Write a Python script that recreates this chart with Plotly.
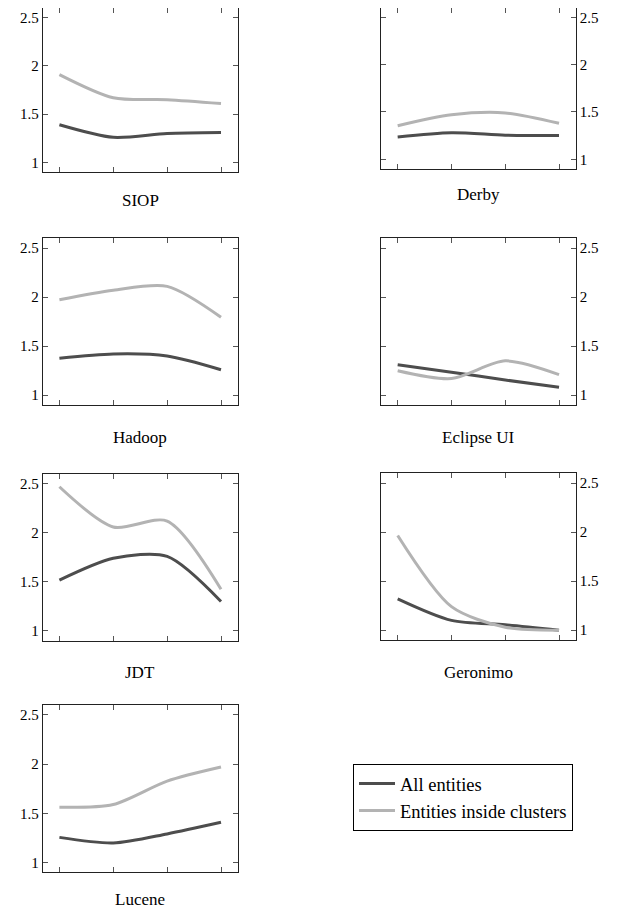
import plotly.graph_objects as go

x_steps = [1, 2, 3, 4]
panels = ["SIOP", "Derby", "Hadoop", "Eclipse UI", "JDT", "Geronimo", "Lucene"]
all_entities = {
    "SIOP": [1.39, 1.26, 1.30, 1.31],
    "Derby": [1.235, 1.28, 1.255, 1.25],
    "Hadoop": [1.377, 1.42, 1.40, 1.26],
    "Eclipse UI": [1.31, 1.235, 1.155, 1.08],
    "JDT": [1.517, 1.74, 1.76, 1.30],
    "Geronimo": [1.32, 1.10, 1.055, 1.0],
    "Lucene": [1.255, 1.198, 1.29, 1.408],
}
inside_clusters = {
    "SIOP": [1.91, 1.67, 1.65, 1.61],
    "Derby": [1.354, 1.47, 1.49, 1.38],
    "Hadoop": [1.973, 2.07, 2.11, 1.795],
    "Eclipse UI": [1.25, 1.17, 1.35, 1.21],
    "JDT": [2.47, 2.06, 2.12, 1.425],
    "Geronimo": [1.966, 1.24, 1.03, 1.0],
    "Lucene": [1.561, 1.589, 1.827, 1.97],
}
y_tick_vals = [1, 1.5, 2, 2.5]
y_tick_text = ["1", "1.5", "2", "2.5"]
series_names = ["All entities", "Entities inside clusters"]

W, H = 620, 910
OFF = 8  # page body margin
DARK = "#4d4d4d"
LIGHT = "#b3b3b3"
FONT = "Times New Roman, Liberation Serif, serif"


def px_x(v):
    return (v - OFF) / W


def px_y(v):
    return 1 - (v - OFF) / H


# pixel frames on screen (left, right, top, bottom) and label side
frames = {
    "SIOP": (42.7, 237.7, 5, 172, "left"),
    "Derby": (381, 575.7, 2, 168.7, "right"),
    "Hadoop": (42.7, 237.7, 238.3, 405, "left"),
    "Eclipse UI": (381, 575.7, 238.3, 405, "right"),
    "JDT": (42.7, 237.7, 474, 640.7, "left"),
    "Geronimo": (381, 575.7, 473.3, 640, "right"),
    "Lucene": (42.7, 237.7, 705, 872.3, "left"),
}
title_pos = {
    "SIOP": 200, "Derby": 195, "Hadoop": 437, "Eclipse UI": 437,
    "JDT": 672, "Geronimo": 672, "Lucene": 899,
}

fig = go.Figure()
layout = {}
annotations = []
for i, name in enumerate(panels):
    k = "" if i == 0 else str(i + 1)
    l, r, t, b, side = frames[name]
    xd = [max(0, px_x(l)), min(1, px_x(r))]
    yd = [max(0, px_y(b)), min(1, px_y(t))]
    fig.add_trace(go.Scatter(
        x=x_steps, y=all_entities[name], mode="lines",
        line=dict(color=DARK, width=3, shape="spline", smoothing=0.8),
        name=series_names[0], showlegend=(i == 0),
        xaxis="x" + k, yaxis="y" + k))
    fig.add_trace(go.Scatter(
        x=x_steps, y=inside_clusters[name], mode="lines",
        line=dict(color=LIGHT, width=3, shape="spline", smoothing=0.8),
        name=series_names[1], showlegend=(i == 0),
        xaxis="x" + k, yaxis="y" + k))
    layout["xaxis" + k] = dict(
        domain=xd, anchor="y" + k, range=[0.69, 4.31],
        tickvals=x_steps, showticklabels=False, ticks="inside", ticklen=5,
        tickcolor="#555", showline=True, linecolor="#222", linewidth=1,
        mirror="ticks", showgrid=False, zeroline=False, fixedrange=True)
    layout["yaxis" + k] = dict(
        domain=yd, anchor="x" + k, range=[0.9, 2.6], side=side,
        tickvals=y_tick_vals, ticktext=y_tick_text, ticks="inside", ticklen=5,
        tickcolor="#555", showline=True, linecolor="#222", linewidth=1,
        mirror="ticks", showgrid=False, zeroline=False,
        tickfont=dict(family=FONT, size=15, color="black"), fixedrange=True)
    annotations.append(dict(
        text=name, x=px_x((l + r) / 2), y=px_y(title_pos[name]),
        xref="paper", yref="paper", showarrow=False,
        xanchor="center", yanchor="middle",
        font=dict(family=FONT, size=17, color="black")))

fig.update_layout(
    width=W, height=H,
    margin=dict(l=0, r=0, t=0, b=0),
    paper_bgcolor="white", plot_bgcolor="white",
    annotations=annotations,
    legend=dict(x=px_x(353), y=px_y(764), xanchor="left", yanchor="top",
                bordercolor="black", borderwidth=1, bgcolor="white",
                font=dict(family=FONT, size=18.5, color="black"),
                tracegroupgap=0, itemwidth=36),
    **layout,
)
fig.write_html("out.html")
